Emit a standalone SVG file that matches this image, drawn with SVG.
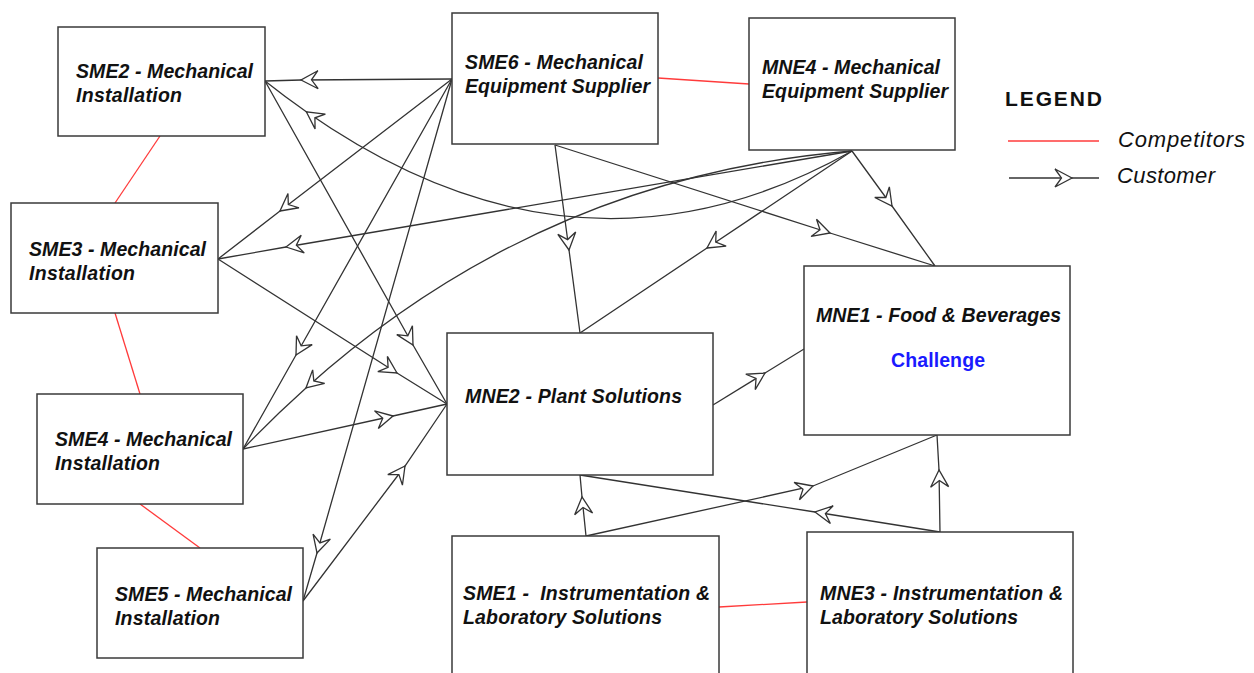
<svg xmlns="http://www.w3.org/2000/svg" width="1254" height="673" viewBox="0 0 1254 673">
  <style>
    .box { fill: #fff; stroke: #3a3a3a; stroke-width: 1.5; }
    .lbl { font-family: "Liberation Sans", Arial, sans-serif; font-size: 19.5px; font-weight: bold; font-style: italic; fill: #111; }
    .hl { font-family: "Liberation Sans", Arial, sans-serif; font-size: 19.5px; font-weight: bold; fill: #1a1aff; }
    .leg-title { font-family: "Liberation Sans", Arial, sans-serif; font-size: 21px; font-weight: bold; fill: #111; }
    .leg { font-family: "Liberation Sans", Arial, sans-serif; font-size: 22px; font-style: italic; fill: #111; }
    .comp { fill: none; stroke: #ff3b3b; stroke-width: 1.3; }
    .cust { fill: none; stroke: #333; stroke-width: 1.3; marker-mid: url(#arr); }
  </style>
  <defs>
    <!-- open notched arrowhead, tip sits on the middle vertex of each connector -->
    <marker id="arr" markerUnits="userSpaceOnUse" viewBox="-20 -11 22 22" refX="0" refY="0" markerWidth="22" markerHeight="22" orient="auto">
      <path d="M0,0 L-17,-9 L-10.5,0 L-17,9 Z" fill="#fff" stroke="#333" stroke-width="1.3" stroke-linejoin="miter"/>
    </marker>
  </defs>
  <rect width="1254" height="673" fill="#fff"/>

  <!-- connectors -->
  <g id="connectors">
    <!-- competitors -->
    <line class="comp" x1="658" y1="78" x2="749" y2="84"/>
    <line class="comp" x1="160" y1="136" x2="115" y2="203"/>
    <line class="comp" x1="115" y1="313" x2="140" y2="394"/>
    <line class="comp" x1="140" y1="504" x2="200" y2="548"/>
    <line class="comp" x1="719" y1="607" x2="807" y2="602"/>

    <!-- customers: source, arrow tip, target -->
    <polyline class="cust" points="452,79 301,80 265,81"/>
    <polyline class="cust" points="452,79 280,211 218,259"/>
    <polyline class="cust" points="452,79 296,355 243,449"/>
    <polyline class="cust" points="452,79 317,553 303,601"/>
    <polyline class="cust" points="265,81 413,345 447,404"/>
    <polyline class="cust" points="218,259 397,373 447,404"/>
    <polyline class="cust" points="243,449 393,416 447,404"/>
    <polyline class="cust" points="303,601 405,466 447,404"/>
    <polyline class="cust" points="713,405 765,373 804,349"/>
    <polyline class="cust" points="555,145 569,250 580,333"/>
    <polyline class="cust" points="555,145 830,233 935,266"/>
    <polyline class="cust" points="852,151 707,248 580,333"/>
    <polyline class="cust" points="852,151 892,206 935,266"/>
    <polyline class="cust" points="852,151 286,247 218,259"/>
    <polyline class="cust" points="586,536 582,497 580,475"/>
    <polyline class="cust" points="586,536 813,486 937,435"/>
    <polyline class="cust" points="940,532 939,470 937,435"/>
    <polyline class="cust" points="940,532 815,512 580,475"/>
    <path class="cust" d="M852,151 Q580.4,303.5 306.3,111.8 Q285.7,97.4 265,81"/>
    <path class="cust" d="M852,151 Q542,176.6 306,387.9 Q273.8,416.7 243,449"/>
  </g>

  <g id="SME2">
    <rect class="box" x="58" y="27" width="207" height="109"/>
    <text class="lbl" x="76" y="78" textLength="177" lengthAdjust="spacing">SME2 - Mechanical</text>
    <text class="lbl" x="76" y="102" textLength="106" lengthAdjust="spacing">Installation</text>
  </g>
  <g id="SME6">
    <rect class="box" x="452" y="13" width="206" height="131"/>
    <text class="lbl" x="465" y="69" textLength="178" lengthAdjust="spacing">SME6 - Mechanical</text>
    <text class="lbl" x="465" y="93" textLength="185" lengthAdjust="spacing">Equipment Supplier</text>
  </g>
  <g id="MNE4">
    <rect class="box" x="749" y="18" width="206" height="132"/>
    <text class="lbl" x="762" y="74" textLength="178" lengthAdjust="spacing">MNE4 - Mechanical</text>
    <text class="lbl" x="762" y="98" textLength="186" lengthAdjust="spacing">Equipment Supplier</text>
  </g>
  <g id="SME3">
    <rect class="box" x="11" y="203" width="207" height="110"/>
    <text class="lbl" x="29" y="256" textLength="177" lengthAdjust="spacing">SME3 - Mechanical</text>
    <text class="lbl" x="29" y="280" textLength="106" lengthAdjust="spacing">Installation</text>
  </g>
  <g id="SME4">
    <rect class="box" x="37" y="394" width="206" height="110"/>
    <text class="lbl" x="55" y="446" textLength="177" lengthAdjust="spacing">SME4 - Mechanical</text>
    <text class="lbl" x="55" y="470" textLength="105" lengthAdjust="spacing">Installation</text>
  </g>
  <g id="SME5">
    <rect class="box" x="97" y="548" width="206" height="110"/>
    <text class="lbl" x="115" y="601" textLength="177" lengthAdjust="spacing">SME5 - Mechanical</text>
    <text class="lbl" x="115" y="625" textLength="105" lengthAdjust="spacing">Installation</text>
  </g>
  <g id="MNE2">
    <rect class="box" x="447" y="333" width="266" height="142"/>
    <text class="lbl" x="465" y="403" textLength="217" lengthAdjust="spacing">MNE2 - Plant Solutions</text>
  </g>
  <g id="MNE1">
    <rect class="box" x="804" y="266" width="266" height="169"/>
    <text class="lbl" x="816" y="322" textLength="245" lengthAdjust="spacing">MNE1 - Food &amp; Beverages</text>
    <text class="hl" x="891" y="367" textLength="94" lengthAdjust="spacing">Challenge</text>
  </g>
  <g id="SME1">
    <rect class="box" x="452" y="536" width="267" height="150"/>
    <text class="lbl" x="463" y="600" textLength="247" lengthAdjust="spacing" xml:space="preserve">SME1 -  Instrumentation &amp;</text>
    <text class="lbl" x="463" y="624" textLength="199" lengthAdjust="spacing">Laboratory Solutions</text>
  </g>
  <g id="MNE3">
    <rect class="box" x="807" y="532" width="266" height="150"/>
    <text class="lbl" x="820" y="600" textLength="243" lengthAdjust="spacing">MNE3 - Instrumentation &amp;</text>
    <text class="lbl" x="820" y="624" textLength="198" lengthAdjust="spacing">Laboratory Solutions</text>
  </g>

  <g id="legend">
    <text class="leg-title" x="1005" y="106" textLength="97" lengthAdjust="spacing">LEGEND</text>
    <line class="comp" x1="1008" y1="141" x2="1099" y2="141"/>
    <text class="leg" x="1118" y="147" textLength="127" lengthAdjust="spacing">Competitors</text>
    <polyline class="cust" points="1009,178 1072,178 1099,178"/>
    <text class="leg" x="1117" y="183" textLength="98" lengthAdjust="spacing">Customer</text>
  </g>
</svg>
